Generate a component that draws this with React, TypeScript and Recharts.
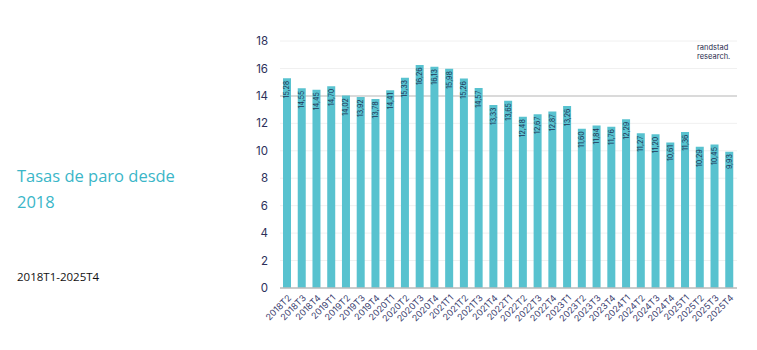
import React from 'react';
import { BarChart, Bar, XAxis, YAxis, CartesianGrid, LabelList } from 'recharts';

const categories = [
  '2018T2', '2018T3', '2018T4', '2019T1', '2019T2', '2019T3', '2019T4',
  '2020T1', '2020T2', '2020T3', '2020T4', '2021T1', '2021T2', '2021T3', '2021T4',
  '2022T1', '2022T2', '2022T3', '2022T4', '2023T1', '2023T2', '2023T3', '2023T4',
  '2024T1', '2024T2', '2024T3', '2024T4', '2025T1', '2025T2', '2025T3', '2025T4',
];

const rates = [
  15.28, 14.55, 14.45, 14.70, 14.02, 13.92, 13.78,
  14.41, 15.33, 16.26, 16.13, 15.98, 15.26, 14.57, 13.33,
  13.65, 12.48, 12.67, 12.87, 13.26, 11.60, 11.84, 11.76,
  12.29, 11.27, 11.20, 10.61, 11.36, 10.29, 10.45, 9.93,
];

const yTicks = [0, 2, 4, 6, 8, 10, 12, 14, 16, 18];
const highlightLevel = 14;

const title = ['Tasas de paro desde', '2018'];
const subtitle = '2018T1-2025T4';
const logo = ['randstad', 'research.'];

const data = categories.map((q, i) => ({ q, v: rates[i] }));

const NAVY = '#2c2f5a';
const BAR = '#58c2cf';

const BarLabel = (props: any) => {
  const { x, y, width, value } = props;
  const cx = Number(x) + Number(width) / 2;
  const ty = Number(y) + 2.5;
  return (
    <text
      x={cx}
      y={ty}
      transform={`rotate(-90 ${cx} ${ty})`}
      textAnchor="end"
      dominantBaseline="central"
      fontSize={7}
      fill="#1f3658"
      fontFamily="Inter, Roboto, sans-serif"
    >
      {Number(value).toFixed(2).replace('.', ',')}
    </text>
  );
};

const GridLine = (p: any) => {
  const strong = yTicks[p.index] === highlightLevel;
  return (
    <line
      key={p.key}
      x1={p.x1}
      y1={p.y1}
      x2={p.x2}
      y2={p.y2}
      stroke={strong ? '#dadada' : '#f0f0f0'}
      strokeWidth={strong ? 2 : 1}
    />
  );
};

export default function App() {
  return (
    <div
      style={{
        position: 'absolute',
        left: 0,
        top: 0,
        width: 757,
        height: 350,
        background: '#ffffff',
        overflow: 'hidden',
      }}
    >
      <div
        style={{
          position: 'absolute',
          left: 17,
          top: 163,
          fontFamily: '"Open Sans", sans-serif',
          fontSize: 16.5,
          lineHeight: '26px',
          color: '#3ab6c8',
          whiteSpace: 'nowrap',
        }}
      >
        <div>{title[0]}</div>
        <div>{title[1]}</div>
      </div>
      <div
        style={{
          position: 'absolute',
          left: 17,
          top: 270,
          fontFamily: '"Open Sans", sans-serif',
          fontSize: 11.5,
          lineHeight: '14px',
          color: '#111111',
          whiteSpace: 'nowrap',
        }}
      >
        {subtitle}
      </div>
      <div
        style={{
          position: 'absolute',
          left: 697,
          top: 43,
          fontFamily: 'Inter, Roboto, sans-serif',
          fontSize: 7.5,
          lineHeight: '9px',
          color: '#2a2c4e',
          whiteSpace: 'nowrap',
        }}
      >
        <div>{logo[0]}</div>
        <div>{logo[1]}</div>
      </div>
      <div style={{ position: 'absolute', left: 0, top: 0 }}>
        <BarChart
          width={757}
          height={350}
          data={data}
          margin={{ top: 41, right: 20, bottom: 0, left: 0 }}
        >
          <CartesianGrid vertical={false} horizontal={GridLine} />
          <XAxis
            dataKey="q"
            interval={0}
            height={62}
            tickLine={false}
            tickSize={0}
            tickMargin={6}
            angle={-45}
            textAnchor="end"
            axisLine={{ stroke: '#bdbdbd', strokeWidth: 1.5 }}
            tick={{ fontSize: 9, fill: '#3d4270', fontFamily: 'Inter, Roboto, sans-serif' }}
          />
          <YAxis
            width={280}
            domain={[0, 18]}
            ticks={yTicks}
            interval={0}
            axisLine={false}
            tickLine={false}
            tickSize={0}
            tickMargin={12}
            tick={{ fontSize: 11.5, fill: NAVY, fontFamily: 'Inter, Roboto, sans-serif' }}
          />
          <Bar dataKey="v" fill={BAR} barSize={8} isAnimationActive={false}>
            <LabelList dataKey="v" content={BarLabel} />
          </Bar>
        </BarChart>
      </div>
    </div>
  );
}
